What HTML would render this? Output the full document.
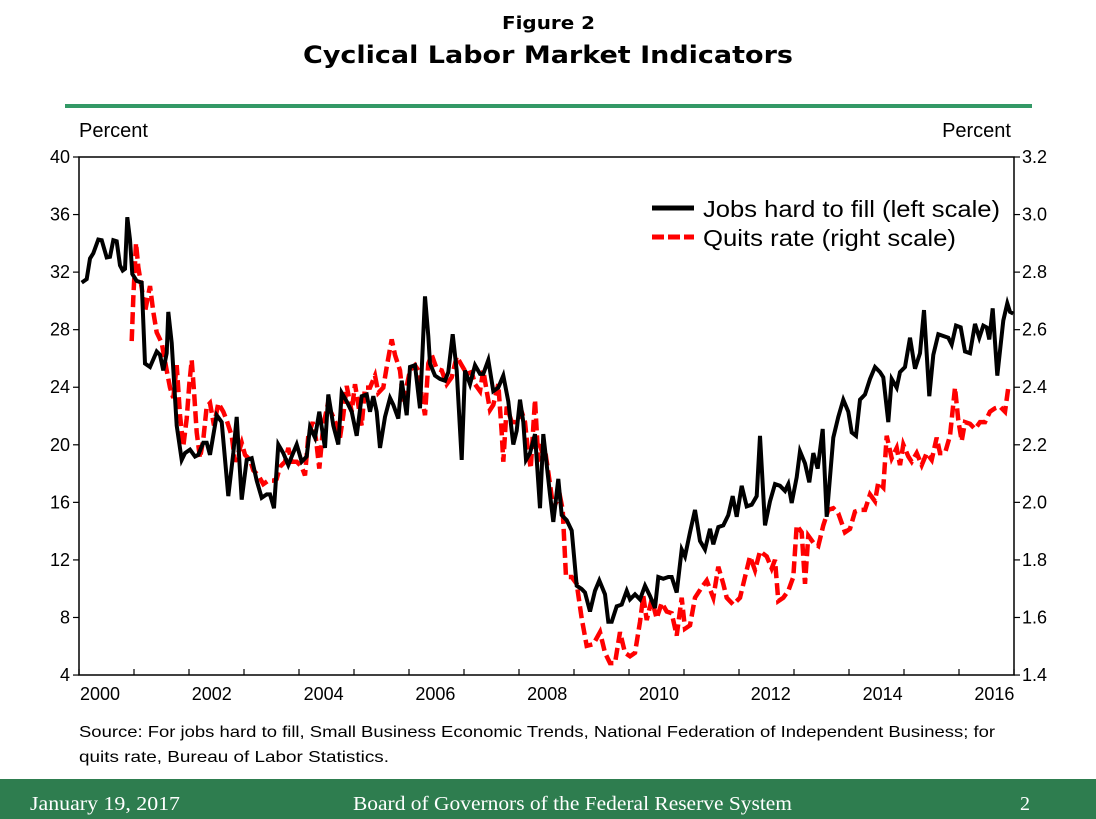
<!DOCTYPE html>
<html><head><meta charset="utf-8"><style>
body{margin:0;background:#fff;}
svg{display:block;font-family:"Liberation Sans",sans-serif;}
</style></head><body>
<svg id="s" width="1096" height="819" viewBox="0 0 1096 819" xmlns="http://www.w3.org/2000/svg">
<rect width="1096" height="819" fill="#fff"/>
<text x="502" y="29" font-size="18" font-weight="bold" font-family="DejaVu Sans,sans-serif" textLength="93" lengthAdjust="spacingAndGlyphs">Figure 2</text>
<text x="303" y="63" font-size="24" font-weight="bold" font-family="DejaVu Sans,sans-serif" textLength="490" lengthAdjust="spacingAndGlyphs">Cyclical Labor Market Indicators</text>
<rect x="65" y="104" width="967" height="4" fill="#339966"/>
<text x="79" y="137" font-size="20">Percent</text>
<text x="1011" y="137" font-size="20" text-anchor="end">Percent</text>
<rect x="79" y="157" width="935" height="518" fill="none" stroke="#000" stroke-width="1.5"/>
<g id="ticks" stroke="#000" stroke-width="1.2"></g>
<g id="labels" font-size="18"></g>
<g id="data"></g>
<line x1="652" y1="208" x2="694" y2="208" stroke="#000" stroke-width="5"/>
<text x="703" y="217" font-size="23" textLength="297" lengthAdjust="spacingAndGlyphs">Jobs hard to fill (left scale)</text>
<line x1="652" y1="237" x2="694" y2="237" stroke="#f00" stroke-width="5" stroke-dasharray="12,4"/>
<text x="703" y="246" font-size="23" textLength="253" lengthAdjust="spacingAndGlyphs">Quits rate (right scale)</text>
<text x="79" y="737" font-size="16" textLength="916" lengthAdjust="spacingAndGlyphs">Source: For jobs hard to fill, Small Business Economic Trends, National Federation of Independent Business; for</text>
<text x="79" y="762" font-size="16" textLength="310" lengthAdjust="spacingAndGlyphs">quits rate, Bureau of Labor Statistics.</text>
<rect x="0" y="779" width="1096" height="40" fill="#2e7d4f"/>
<text x="30" y="810" font-size="20" fill="#fff" font-family="Liberation Serif,serif" textLength="150" lengthAdjust="spacingAndGlyphs">January 19, 2017</text>
<text x="353" y="810" font-size="20" fill="#fff" font-family="Liberation Serif,serif" textLength="439" lengthAdjust="spacingAndGlyphs">Board of Governors of the Federal Reserve System</text>
<text x="1030" y="810" font-size="20" fill="#fff" font-family="Liberation Serif,serif" text-anchor="end">2</text>
</svg>
<script>
var NS="http://www.w3.org/2000/svg";
function el(p,t,a,txt){var e=document.createElementNS(NS,t);for(var k in a)e.setAttribute(k,a[k]);if(txt!=null)e.textContent=txt;document.getElementById(p).appendChild(e);return e;}
for(var i=0;i<=9;i++){var y=157+i*57.56;
 el("ticks","line",{x1:73,y1:y,x2:79,y2:y});el("ticks","line",{x1:1014,y1:y,x2:1020,y2:y});
 el("labels","text",{x:70,y:y+6,"text-anchor":"end"},String(40-4*i));
 el("labels","text",{x:1022,y:y+6},(3.2-0.2*i).toFixed(1));}
for(var j=0;j<=17;j++){var x=79+j*55;if(x>1014)break;el("ticks","line",{x1:x,y1:669,x2:x,y2:675});}
for(var yr=2000;yr<=2016;yr+=2){el("labels","text",{x:100+(yr-2000)*55.9,y:700,"text-anchor":"middle"},String(yr));}
var ys=540/1568;
function conv(arr,ox){var o=[];for(var i=0;i<arr.length;i+=2)o.push((ox+arr[i]/3).toFixed(1)+","+(150+arr[i+1]*ys).toFixed(1));return o;}
var b1=[35,385,50,375,60,315,70,300,85,260,95,262,110,312,120,310,130,262,140,265,150,335,158,350,165,345,172,195,180,260,187,360,200,380,215,385,225,620,240,630,260,585,270,595,280,640,290,590,295,470,305,560,320,800,335,900,345,880,360,870,375,890,385,885,400,850,410,850,420,885,440,770,455,790,475,1005,490,880,500,775,515,1015,530,900,545,895,560,960,575,1010,590,1000,600,1000,612,1040,625,855,640,880,655,915,665,890,680,855,695,905,710,890,720,805,735,835,748,760,765,865,775,710,790,800,805,855,815,705,830,730,845,760,860,830,875,715,890,710,900,760,910,715,920,760,930,865,945,775,960,720,970,740,985,780,995,670,1010,770,1020,630,1035,625,1050,750,1065,425,1075,540,1080,620,1095,655,1110,665,1125,670,1135,645,1148,535,1160,640,1175,900,1185,640,1200,680,1215,625,1230,650,1240,650,1255,610,1270,700,1285,690,1300,655,1315,730,1330,855,1340,815,1350,725,1360,790,1368,900,1380,880,1395,825,1410,1040,1420,825];
var b2=[30,1000,40,1080,55,955,65,1060,80,1075,95,1105,110,1265,125,1275,135,1285,150,1340,165,1280,178,1250,195,1290,205,1370,215,1370,230,1325,245,1320,260,1280,270,1305,285,1290,300,1305,315,1265,330,1295,345,1330,355,1240,370,1245,385,1240,395,1240,410,1285,425,1160,435,1180,450,1110,465,1045,480,1135,495,1160,510,1100,520,1145,535,1095,550,1090,565,1060,578,1005,590,1065,605,975,620,1035,635,1030,650,1005,660,830,675,1090,690,1020,705,970,720,975,735,990,745,970,755,1025,770,950,780,875,795,910,808,965,820,880,833,925,848,810,860,1065,880,835,895,775,910,725,925,760,935,820,948,830,960,725,975,710,990,665,1005,630,1020,645,1030,660,1045,790,1055,665,1070,690,1080,645,1095,630,1110,545,1125,635,1140,590,1152,465,1168,715,1180,595,1195,535,1210,540,1225,545,1235,565,1248,510,1262,515,1275,585,1290,590,1305,505,1318,545,1330,510,1340,515,1348,550,1358,460,1372,655,1390,495,1402,445,1410,470,1420,475];
var r1=[185,555,190,430,198,270,205,340,215,400,225,470,240,395,250,470,260,530,275,560,290,640,300,690,310,720,320,625,330,770,340,860,350,780,358,680,365,610,372,700,380,820,390,895,400,840,410,745,420,735,432,800,445,735,460,760,470,785,485,830,495,905,505,880,515,850,525,885,540,900,550,930,565,945,580,970,595,960,610,960,620,955,630,920,645,905,655,865,665,905,680,905,695,920,705,945,715,830,728,790,738,840,748,925,760,800,772,745,785,765,800,800,810,835,820,770,830,685,845,760,855,680,865,740,875,800,885,690,900,690,915,655,925,705,940,690,950,630,965,550,975,595,990,640,1000,730,1010,685,1020,640,1035,625,1045,640,1055,715,1065,770,1075,620,1085,595,1100,635,1115,640,1130,680,1145,660,1160,600,1175,625,1190,650,1205,645,1215,680,1230,700,1240,640,1250,700,1260,755,1270,740,1285,680,1295,820,1300,905,1310,745,1325,790,1340,790,1355,760,1365,790,1372,855,1382,925,1395,725,1405,900,1420,885];
var r2=[0,860,15,870,30,970,40,1040,50,1020,60,1005,68,1045,78,1240,95,1240,110,1260,125,1360,140,1440,160,1435,180,1400,195,1460,210,1490,225,1490,240,1400,255,1460,270,1470,285,1460,300,1370,310,1295,320,1365,335,1305,350,1360,365,1315,380,1340,395,1345,410,1410,425,1300,435,1390,450,1380,465,1300,485,1270,500,1250,520,1300,535,1210,550,1260,560,1300,580,1320,600,1300,615,1240,630,1180,645,1220,660,1165,680,1180,695,1215,705,1190,715,1310,730,1300,745,1280,760,1240,770,1090,785,1110,795,1260,805,1120,820,1140,835,1150,850,1090,865,1045,880,1040,895,1055,915,1110,930,1100,945,1050,960,1045,975,1045,990,1000,1005,1020,1015,965,1030,980,1040,830,1055,895,1070,865,1080,915,1090,855,1105,890,1115,905,1130,880,1145,915,1160,880,1175,900,1190,835,1200,880,1215,880,1230,830,1245,690,1255,785,1265,845,1275,790,1290,795,1305,810,1320,790,1335,790,1350,760,1365,750,1380,745,1395,760,1405,690];
var rp=conv(r1,70).concat(conv(r2,540));
var bp=conv(b1,70).concat(conv(b2,540));
el("data","polyline",{points:rp.join(" "),fill:"none",stroke:"#f00","stroke-width":4.5,"stroke-dasharray":"12,5","stroke-linejoin":"miter"});
el("data","polyline",{points:bp.join(" "),fill:"none",stroke:"#000","stroke-width":4,"stroke-linejoin":"miter"});
</script>
</body></html>
